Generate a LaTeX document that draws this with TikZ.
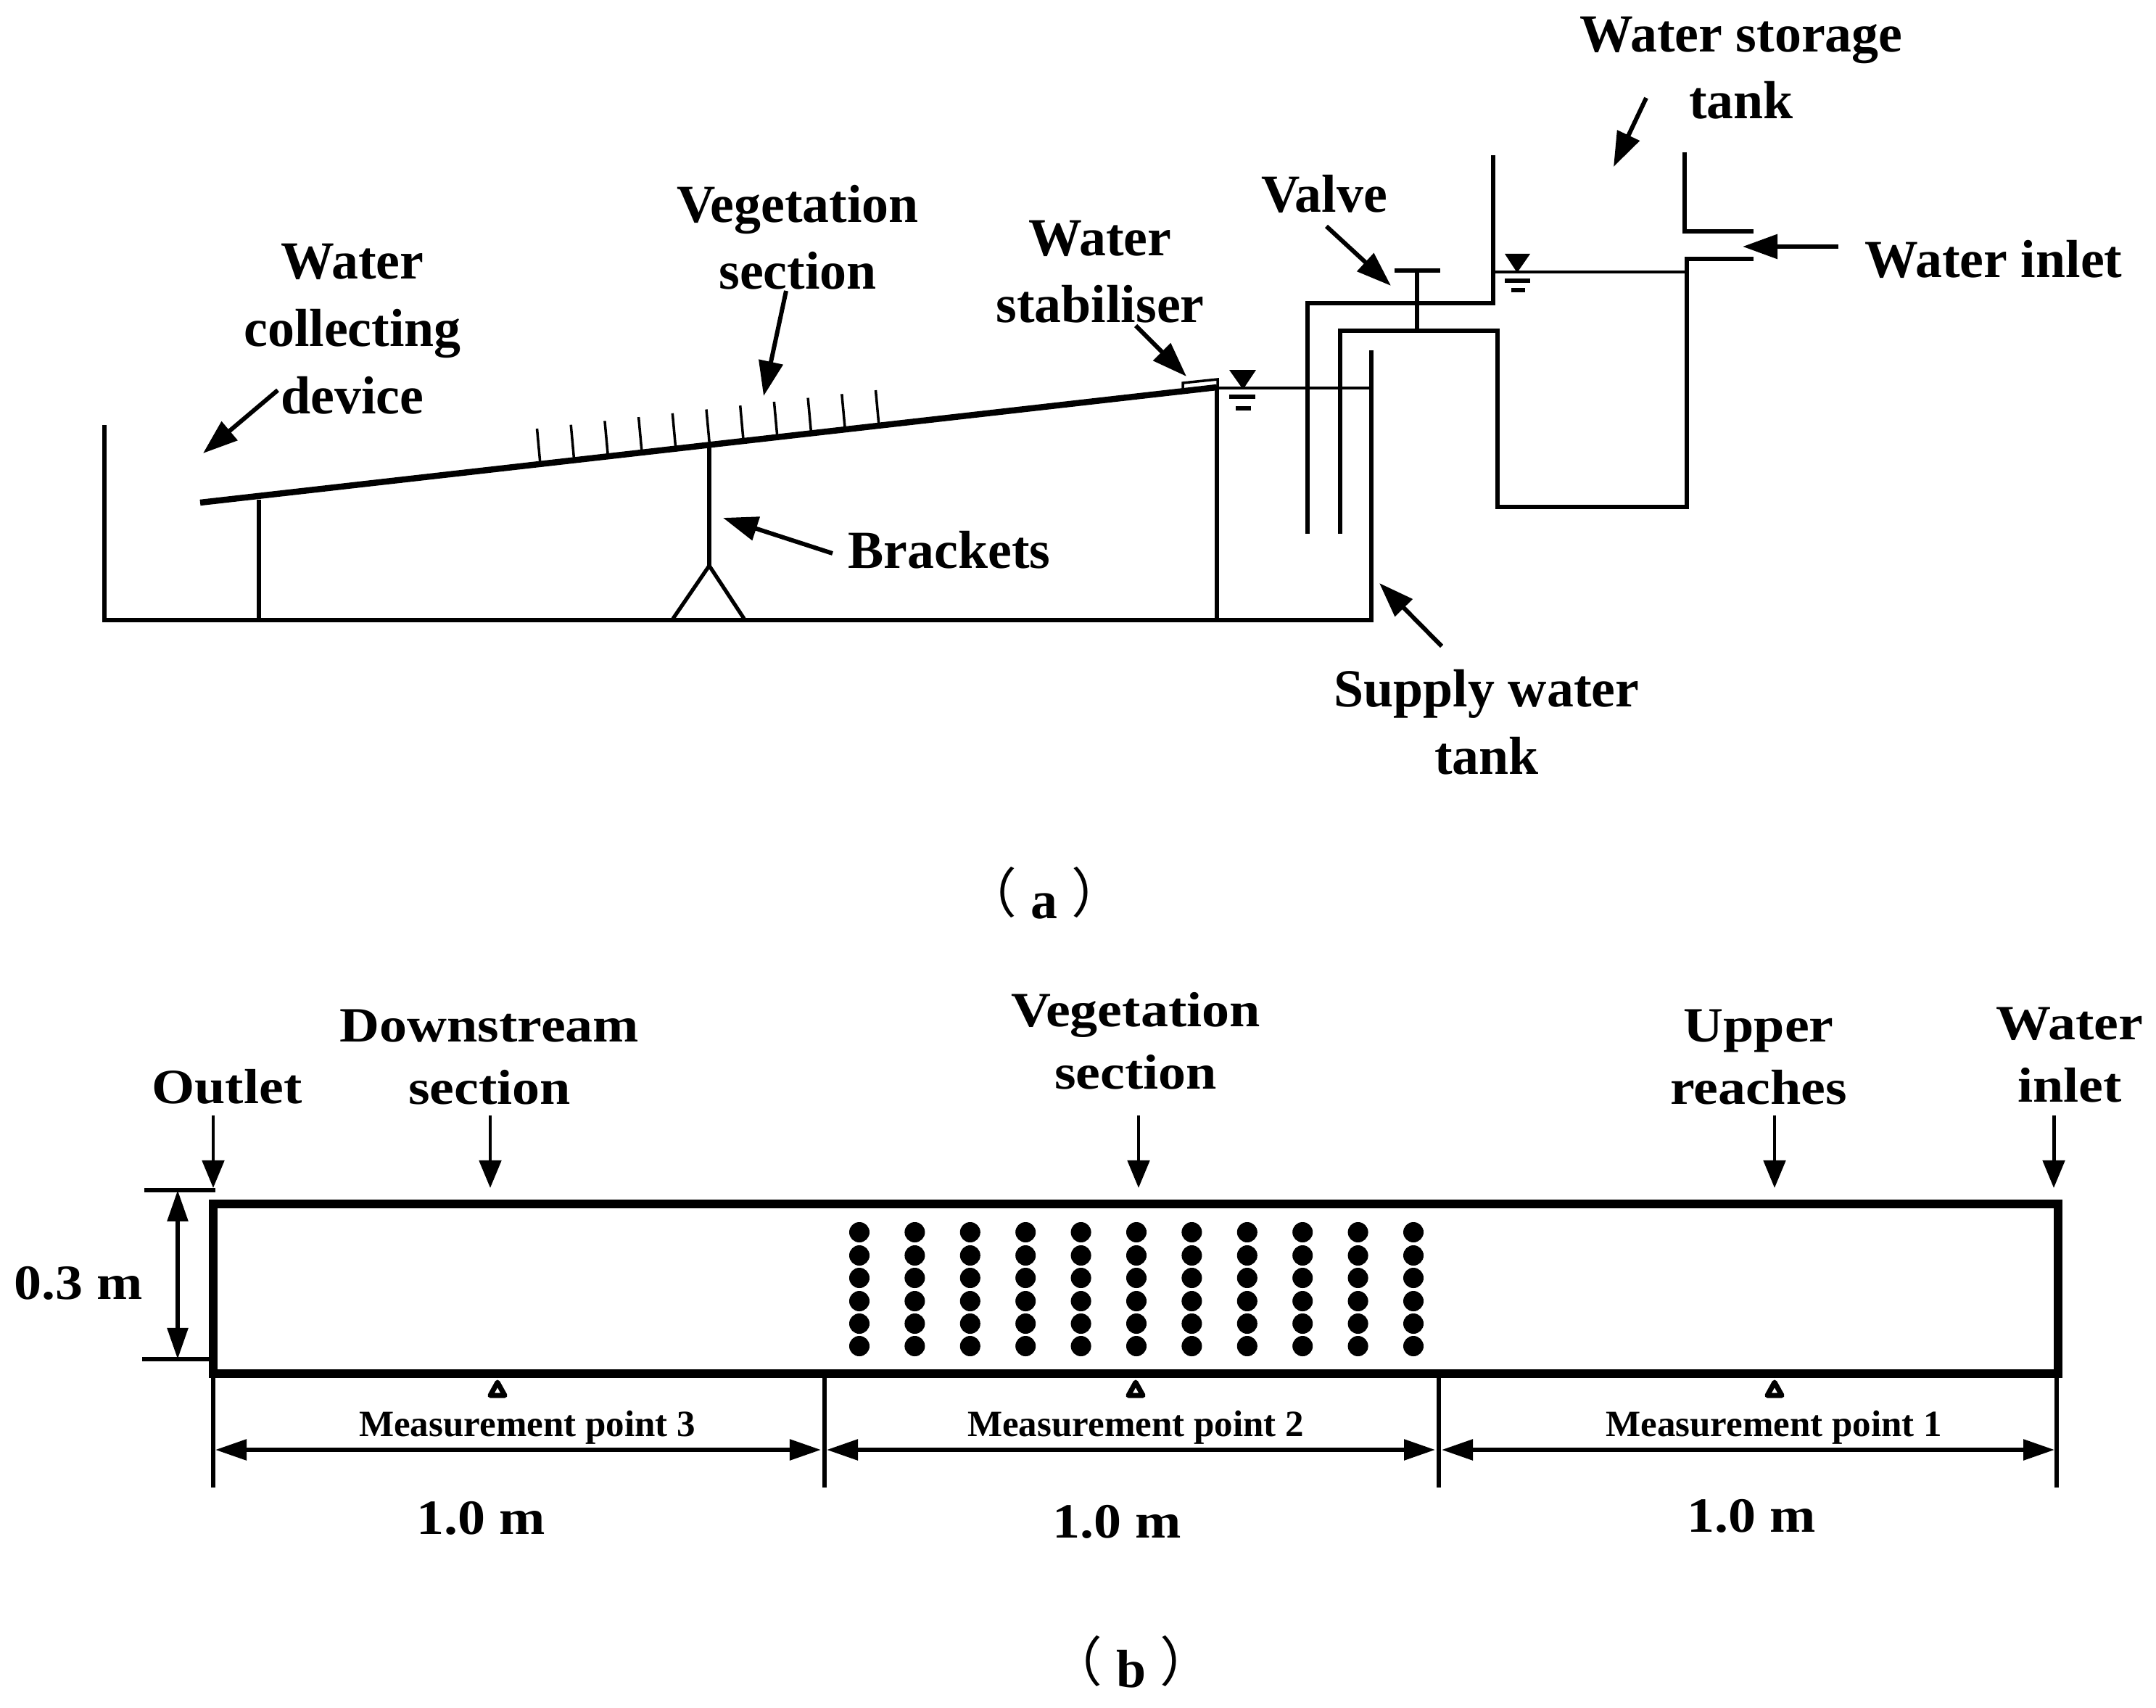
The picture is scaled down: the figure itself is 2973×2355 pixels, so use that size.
\documentclass[tikz,border=0pt]{standalone}
\usepackage{fontspec}
\setmainfont{Liberation Serif}
\newfontfamily\cjk{Noto Sans CJK SC}
\usetikzlibrary{arrows.meta}
\newcommand{\capt}[1]{\raisebox{2pt}{\cjk\mdseries （}\hspace{5.5pt}#1\hspace{5.5pt}\raisebox{2pt}{\cjk\mdseries ）}}
\tikzset{
  lab/.style={anchor=base, align=center, inner sep=0pt, font=\fontsize{21}{26.4}\selectfont\bfseries},
  labb/.style={lab, xscale=1.03, yscale=.92},
  smalllab/.style={anchor=base, inner sep=0pt, font=\fontsize{14.5}{17}\selectfont\bfseries},
  pointer/.style={line width=1.7pt, -{Triangle[length=4.8mm,width=3.3mm]}},
  downarrow/.style={line width=1.4pt, -{Triangle[length=3.8mm,width=3mm]}},
  dimline/.style={line width=1.6pt, {Triangle[length=4.3mm,width=2.8mm]}-{Triangle[length=4.3mm,width=2.8mm]}},
  wall/.style={line width=1.5pt},
  pipe/.style={line width=1.8pt, line join=miter},
  level/.style={line width=.9pt}
}
\begin{document}
\begin{tikzpicture}[x=0.01cm, y=-0.01cm]

\useasboundingbox (0, 0) rectangle (2973, 2355);

% side view
\draw[pipe] (144, 586) -- (144, 855) -- (1891, 855) -- (1891, 483);
\draw[line width=2.4pt] (276, 693) -- (1678, 534);
\draw[wall] (357, 689) -- (357, 855);
\draw[wall] (978, 613) -- (978, 780);
\draw[wall] (928, 853) -- (978, 780) -- (1026, 853);
\draw[wall] (1678, 534) -- (1678, 855);
\foreach \i in {0,...,10}
  \draw[line width=1pt] ({745+46.7*\i}, {640-5.3*\i}) -- ({740.5+46.7*\i}, {591-5.3*\i});
\draw[line width=1pt] (1631, 528) -- (1679, 523) -- (1679, 534) -- (1631, 538) -- cycle;

% pipes and tanks
\draw[pipe] (2059, 214) -- (2059, 418) -- (1803, 418) -- (1803, 736);
\draw[pipe] (1848, 736) -- (1848, 456) -- (2065, 456) -- (2065, 699) -- (2326, 699) -- (2326, 357) -- (2418, 357);
\draw[pipe] (2323, 210) -- (2323, 319) -- (2418, 319);
\draw[wall] (1923, 373) -- (1986, 373);
\draw[wall] (1954, 373) -- (1954, 456);

% water levels
\draw[level] (1678, 535) -- (1891, 535);
\draw[level] (2060, 375) -- (2326, 375);
\fill (1695, 510) -- (1732, 510) -- (1714, 537) -- cycle;
\draw[wall] (1695, 547) -- (1731, 547);
\draw[wall] (1704, 563) -- (1725, 563);
\fill (2075, 350) -- (2110, 350) -- (2092, 376) -- cycle;
\draw[wall] (2075, 387) -- (2110, 387);
\draw[wall] (2084, 400) -- (2103, 400);

\node[lab] (collect) at (486, 570) {Water\\collecting\\device};
\node[lab] (vegA) at (1100, 399) {Vegetation\\section};
\node[lab] (stab) at (1517, 445) {Water\\stabiliser};
\node[lab] (valve) at (1826, 293) {Valve};
\node[lab] (brackets) at (1309, 783) {Brackets};
\node[lab] (storage) at (2401, 164) {Water storage\\tank};
\node[lab] (inletA) at (2749, 383) {Water inlet};
\node[lab] (supply) at (2050, 1067) {Supply water\\tank};
\node[lab] (capA) at (1440, 1266) {\capt{a}};

\coordinate (collect s) at (383, 538);
\coordinate (collect e) at (280, 625);
\coordinate (vegA s) at (1084, 401);
\coordinate (vegA e) at (1053, 546);
\coordinate (brackets s) at (1148, 763);
\coordinate (brackets e) at (997, 714);
\coordinate (stab s) at (1566, 449);
\coordinate (stab e) at (1636, 519);
\coordinate (valve s) at (1829, 312);
\coordinate (valve e) at (1918, 394);
\coordinate (storage s) at (2270, 135);
\coordinate (storage e) at (2225, 230);
\coordinate (inletA s) at (2535, 340);
\coordinate (inletA e) at (2403, 340);
\coordinate (supply s) at (1988, 891);
\coordinate (supply e) at (1902, 804);
\foreach \n in {collect, vegA, brackets, stab, valve, storage, inletA, supply}
  \draw[pointer] (\n\space s) -- (\n\space e);

% top view
\draw[line width=3.3pt, line join=miter] (294, 1660) rectangle (2838, 1894);
\foreach \i in {0,...,10}
  \foreach \y in {1699, 1731, 1762, 1794, 1825, 1856}
    \fill ({1185+76.4*\i}, \y) circle[radius=.14cm];
\foreach \x in {686, 1566, 2447}
  \draw[line width=2pt, line join=round] (\x, 1906) -- (\x+10, 1924) -- (\x-10, 1924) -- cycle;

\node[labb] (outlet) at (313, 1521) {Outlet};
\node[labb] (down) at (675, 1522) {Downstream\\section};
\node[labb] (vegB) at (1566, 1501) {Vegetation\\section};
\node[labb] (upper) at (2425, 1522) {Upper\\reaches};
\node[labb] (inletB) at (2854, 1519) {Water\\inlet};

\foreach \n/\x in {outlet/294, down/676, vegB/1570, upper/2447, inletB/2832} {
  \coordinate (\n\space s) at (\x, 1538);
  \coordinate (\n\space e) at (\x, 1638);
  \draw[downarrow] (\n\space s) -- (\n\space e);
}

% dimensions
\draw[wall] (199, 1641) -- (297, 1641);
\draw[wall] (196, 1874) -- (290, 1874);
\coordinate (h top) at (245, 1641);
\coordinate (h bot) at (245, 1874);
\draw[dimline] (h top) -- (h bot);
\node[labb] (height) at (108, 1791) {0.3 m};

\foreach \n/\x in {a/294, b/1137, c/1984, d/2836} {
  \coordinate (\n\space top) at (\x, 1894);
  \coordinate (\n\space bot) at (\x, 2051);
  \draw[wall] (\n\space top) -- (\n\space bot);
}
\foreach \a/\b/\sx/\ex in {a/b/297/1132, b/c/1140/1979, c/d/1988/2833} {
  \coordinate (\a\b s) at (\sx, 1999);
  \coordinate (\a\b e) at (\ex, 1999);
  \draw[dimline] (\a\b s) -- (\a\b e);
}

\node[smalllab] (mp3) at (727, 1980) {Measurement point 3};
\node[smalllab] (mp2) at (1566, 1980) {Measurement point 2};
\node[smalllab] (mp1) at (2446, 1980) {Measurement point 1};
\node[labb] (len3) at (663, 2115) {1.0 m};
\node[labb] (len2) at (1540, 2120) {1.0 m};
\node[labb] (len1) at (2415, 2112) {1.0 m};
\node[lab] (capB) at (1560, 2326) {\capt{b}};

\end{tikzpicture}
\end{document}
